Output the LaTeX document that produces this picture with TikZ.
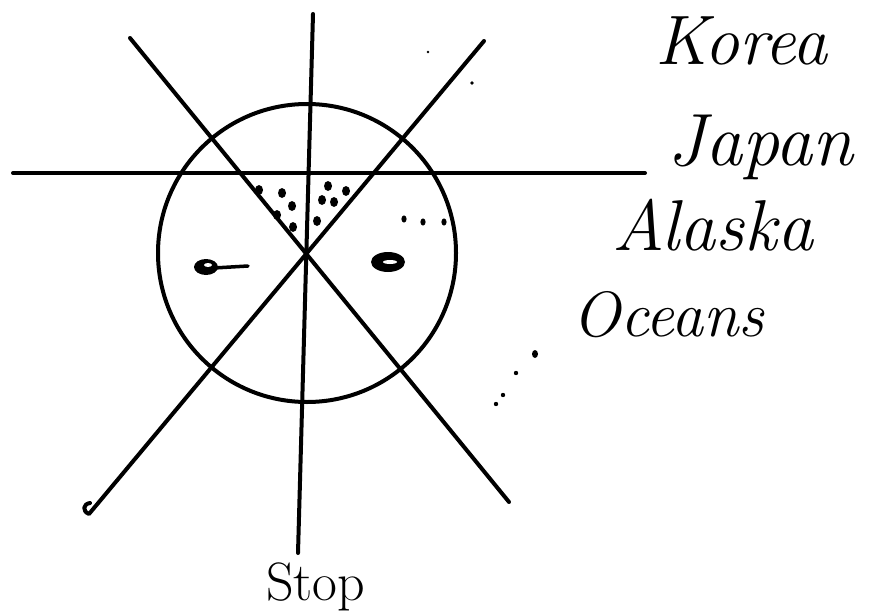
\documentclass[tikz,border=0pt]{standalone}
\usepackage{fontspec}
\tikzset{
  pen/.style={line width=4pt,line cap=round,line join=round},
  word/.style={inner sep=0pt,font=\itshape\fontsize{#1}{#1}\selectfont},
  speck/.style={fill=black}
}
\begin{document}
\begin{tikzpicture}[x=1pt,y=-1pt]
  \useasboundingbox (0,0) rectangle (883,615);
  \coordinate (mid) at (307,253);
  % globe and the four lines through it
  \draw[pen] (mid) circle (149pt);
  \draw[pen] (13,173) -- (645,173);
  \draw[pen] (313,14) -- (298,553);
  \draw[pen] (130,38) -- (509,502);
  \draw[pen] (484,41) -- (89,514) .. controls (82,511) and (83,504) .. (90,503);
  % dotted wedge under the horizon
  \foreach \px/\py in {259/190,282/193,292/206,277/215,293/227,
                       328/186,346/191,322/200,334/202,317/221}
    \fill[speck] (\px,\py) ellipse (4pt and 5pt);
  \foreach \px/\py in {404/219,423/222,444/222}
    \fill[speck] (\px,\py) ellipse (2.6pt and 3.6pt);
  % the two blobs
  \fill[speck] (206,267) ellipse (12pt and 8pt);
  \fill[white] (208,265) ellipse (4pt and 2pt);
  \draw[line width=3.5pt,line cap=round] (214,268) -- (248,266);
  \fill[speck] (388,262) ellipse (17pt and 10pt);
  \fill[white] (390,262) ellipse (7pt and 2pt);
  % stray specks
  \fill[speck] (472,83) circle (1.8pt);
  \fill[speck] (428,52) circle (1.4pt);
  \fill[speck] (535,354) ellipse (3pt and 4pt);
  \fill[speck] (516,373) circle (2.2pt);
  \fill[speck] (503,395) circle (2.2pt);
  \fill[speck] (496,404) circle (2.2pt);
  % labels
  \node[word=70,anchor=base west] (korea) at (655,65) {Korea};
  \node[word=74,anchor=base west] (japan) at (667,165) {Japan};
  \node[word=72,anchor=base west] (alaska) at (612,250) {Alaska};
  \node[word=64,anchor=base west] (oceans) at (572,336) {Oceans};
  \node[inner sep=0pt,font=\fontsize{54}{54}\selectfont,anchor=base west] (stop) at (266,600) {Stop};
\end{tikzpicture}
\end{document}
